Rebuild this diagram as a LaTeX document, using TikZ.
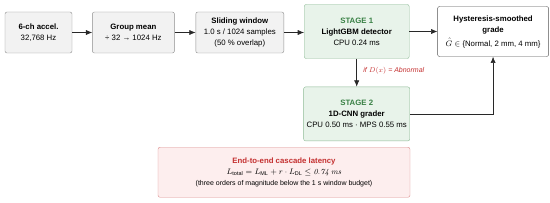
\documentclass[tikz,border=0pt]{standalone}
\usepackage{amsmath,amssymb}
\usepackage{fontspec}
\setsansfont{Liberation Sans}
\usetikzlibrary{arrows.meta,positioning}
\definecolor{ink}{RGB}{40,40,40}
\definecolor{edge}{RGB}{140,140,140}
\definecolor{soft}{RGB}{242,242,242}
\definecolor{stgfill}{RGB}{232,243,234}
\definecolor{stgdraw}{RGB}{140,185,148}
\definecolor{stgtext}{RGB}{56,128,68}
\definecolor{latfill}{RGB}{253,238,238}
\definecolor{latdraw}{RGB}{220,140,140}
\definecolor{latred}{RGB}{196,48,48}
\tikzset{
  proc/.style={draw=edge,rounded corners=2pt,fill=soft,inner sep=3pt,
    font=\sffamily\fontsize{7.8}{11}\selectfont,align=center,minimum height=41pt},
  stage/.style={proc,fill=stgfill,draw=stgdraw,minimum width=105pt,minimum height=54pt},
  outbox/.style={proc,fill=white,draw=ink!80,minimum width=111pt,minimum height=50pt},
  latbox/.style={proc,fill=latfill,draw=latdraw,minimum width=252pt,minimum height=50pt},
  flow/.style={-{Latex[length=2.2mm,width=1.8mm]},semithick,ink},
}
\newcommand{\stg}[1]{{\bfseries\color{stgtext}#1}}
\begin{document}
\begin{tikzpicture}[x=1pt,y=-1pt,node distance=20pt]
  \useasboundingbox (0,0) rectangle (550,203);
  \node[proc,minimum width=67pt] (acc) at (38.5,32.5)
    {\textbf{6-ch accel.}\\32,768 Hz};
  \node[proc,minimum width=82pt,right=of acc] (mean)
    {\textbf{Group mean}\\÷ 32 → 1024 Hz};
  \node[proc,minimum width=88pt,right=21pt of mean] (win)
    {\textbf{Sliding window}\\1.0 s / 1024 samples\\(50 \% overlap)};
  \node[stage,right=of win,yshift=1pt] (st1)
    {\stg{STAGE 1}\\\textbf{LightGBM detector}\\CPU 0.24 ms};
  \node[outbox,right=28pt of st1] (hyst)
    {\textbf{Hysteresis-smoothed}\\\textbf{grade}\\[3pt]$\hat{G}\in$ \{Normal, 2 mm, 4 mm\}};
  \node[stage,below=28pt of st1] (st2)
    {\stg{STAGE 2}\\\textbf{1D-CNN grader}\\CPU 0.50 ms · MPS 0.55 ms};
  \node[latbox,below=6pt of st2.south -| win.east] (lat)
    {{\bfseries\color{latred}End-to-end cascade latency}\\
     $L_{\text{total}} = L_{\text{ML}} + r\cdot L_{\text{DL}} \le \mathit{0.74\ ms}$\\
     {\fontsize{7}{9}\selectfont(three orders of magnitude below the 1 s window budget)}};

  \draw[flow] (acc) -- (mean);
  \draw[flow] (mean) -- (win);
  \draw[flow] (win) -- (win -| st1.west);
  \draw[flow] (st1) -- (st1 -| hyst.west);
  \draw[flow] (st1) -- node[right,xshift=3pt,yshift=2pt,font=\sffamily\itshape\fontsize{7}{8}\selectfont,text=latred]
    {if $D(x)$ = Abnormal} (st2);
  \draw[flow] (st2.east) -| (hyst.south);
\end{tikzpicture}
\end{document}
